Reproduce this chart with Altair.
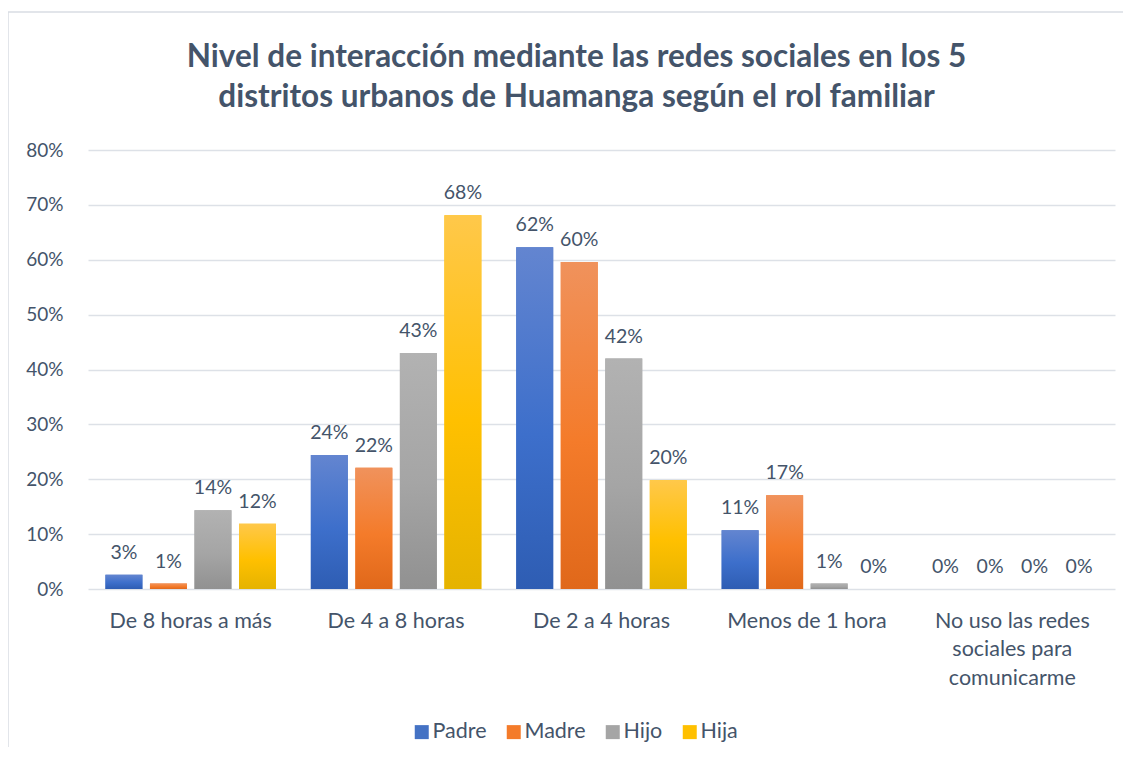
import altair as alt
import pandas as pd

categorias = ["De 8 horas a más", "De 4  a 8 horas", "De 2 a 4 horas",
              "Menos de 1 hora", "No uso las redes sociales para comunicarme"]
roles = ["Padre", "Madre", "Hijo", "Hija"]
padre = [0.026, 0.244, 0.623, 0.107, 0.0]
madre = [0.010, 0.221, 0.596, 0.171, 0.0]
hijo = [0.1435, 0.430, 0.420, 0.010, 0.0]
hija = [0.119, 0.681, 0.198, 0.0, 0.0]
y_ticks = [0, 0.1, 0.2, 0.3, 0.4, 0.5, 0.6, 0.7, 0.8]
titulo = ["Nivel de interacción mediante las redes sociales en los 5",
          "distritos urbanos de Huamanga según el rol familiar"]

series = {"Padre": padre, "Madre": madre, "Hijo": hijo, "Hija": hija}
rows = []
for rol in roles:
    for cat, v in zip(categorias, series[rol]):
        rows.append({"categoria": cat, "rol": rol, "valor": v})
df = pd.DataFrame(rows)

colores_base = ["#4472c4", "#f47b2a", "#a5a5a5", "#ffc000"]
gradientes = {
    "Padre": ("#6385d0", "#3d6fcb", "#2e5db3"),
    "Madre": ("#f0925c", "#f47b2a", "#e0681a"),
    "Hijo": ("#b2b2b2", "#a5a5a5", "#919191"),
    "Hija": ("#ffc84a", "#ffc000", "#e5b300"),
}

W, H = 1027, 439
TXT = "#44546a"
FONT = "Lato"

x_enc = alt.X("categoria:N", sort=categorias,
              scale=alt.Scale(domain=categorias, paddingInner=0.133, paddingOuter=0.0665),
              axis=alt.Axis(title=None, labelAngle=0, ticks=False, domain=False,
                            labelFontSize=21.5, labelFont=FONT, labelColor=TXT,
                            labelPadding=21, labelLineHeight=28.5, labelLimit=300,
                            labelExpr="datum.label == 'No uso las redes sociales para comunicarme' ? ['No uso las redes', 'sociales para', 'comunicarme'] : datum.label"))
xo_enc = alt.XOffset("rol:N", sort=roles,
                     scale=alt.Scale(domain=roles, paddingInner=0.17, paddingOuter=0.085))
y_enc = alt.Y("valor:Q", scale=alt.Scale(domain=[0, 0.8], nice=False),
              axis=alt.Axis(title=None, values=y_ticks, format=".0%", ticks=False,
                            domain=False, labelFontSize=19, labelFont=FONT,
                            labelColor=TXT, labelPadding=25,
                            gridColor="#dde1e7", gridWidth=1.5))

base = alt.Chart(df)

bars = base.mark_bar().encode(
    x=x_enc, xOffset=xo_enc, y=y_enc,
    color=alt.Color("rol:N", sort=roles,
                    scale=alt.Scale(domain=roles, range=colores_base),
                    legend=alt.Legend(title=None, orient="none", direction="horizontal",
                                      legendX=323, legendY=571, symbolType="square",
                                      symbolSize=196, symbolStrokeWidth=0,
                                      labelFontSize=21.5, labelFont=FONT, labelColor=TXT,
                                      labelOffset=0, columnPadding=16)),
)

grad_layers = []
for rol in roles:
    c1, c2, c3 = gradientes[rol]
    g = alt.Gradient(gradient="linear", x1=0, y1=0, x2=0, y2=1,
                     stops=[alt.GradientStop(color=c1, offset=0),
                            alt.GradientStop(color=c2, offset=0.55),
                            alt.GradientStop(color=c3, offset=1)])
    grad_layers.append(
        base.transform_filter(alt.datum.rol == rol)
        .mark_bar(color=g)
        .encode(x=x_enc, xOffset=xo_enc, y=y_enc)
    )

labels = base.mark_text(baseline="alphabetic", dy=-16, fontSize=19.5, font=FONT,
                        color=TXT).encode(
    x=x_enc, xOffset=xo_enc, y=y_enc,
    text=alt.Text("valor:Q", format=".0%"),
)

one = pd.DataFrame({"k": [0]})

borde = alt.Chart(one).mark_rect(
    fillOpacity=0, stroke="#d9dde3", strokeWidth=1.5
).encode(x=alt.value(-80), x2=alt.value(W + 60), y=alt.value(-138), y2=alt.value(H + 180))

titulo_txt = alt.Chart(one).mark_text(
    fontSize=31.5, font=FONT, fontWeight="bold", color=TXT, align="center",
    baseline="alphabetic", lineHeight=40
).encode(x=alt.value(W / 2 - 25), y=alt.value(-83), text=alt.value(titulo))

chart = alt.layer(borde, titulo_txt, bars, *grad_layers, labels).properties(
    width=W, height=H,
    autosize=alt.AutoSizeParams(type="none"),
    padding={"left": 80, "top": 142, "right": 8, "bottom": 158},
).configure(background="white", view=alt.ViewConfig(stroke=None))

chart.save("out.html", embed_options={"renderer": "svg", "actions": False})
